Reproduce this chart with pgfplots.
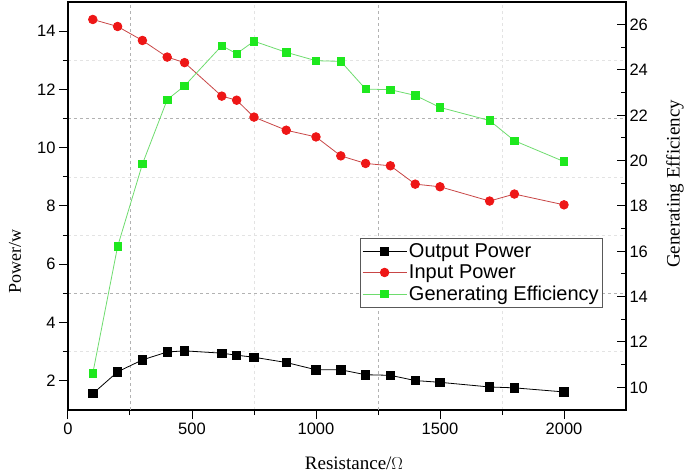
\documentclass[border=0pt]{standalone}
\usepackage{fontspec}
\setmainfont{Liberation Serif}
\newfontfamily\arial{Liberation Sans}
\usepackage{pgfplots}
\pgfplotsset{compat=1.18}
\definecolor{rmark}{RGB}{238,22,22}
\definecolor{rline}{RGB}{200,70,70}
\definecolor{gmark}{RGB}{30,232,30}
\definecolor{gline}{RGB}{110,220,110}
\pgfplotstableread{
x y
100 1.56
200 2.31
300 2.72
400 2.99
470 3.03
620 2.95
680 2.88
750 2.81
880 2.63
1000 2.38
1100 2.38
1200 2.21
1300 2.19
1400 2.01
1500 1.95
1700 1.79
1800 1.76
2000 1.62
}\outputtab
\pgfplotstableread{
x y
100 14.40
200 14.16
300 13.68
400 13.11
470 12.92
620 11.77
680 11.63
750 11.05
880 10.60
1000 10.37
1100 9.72
1200 9.46
1300 9.38
1400 8.75
1500 8.66
1700 8.17
1800 8.41
2000 8.04
}\inputtab
\pgfplotstableread{
x y
100 10.62
200 16.21
300 19.85
400 22.69
470 23.30
620 25.07
680 24.72
750 25.27
880 24.78
1000 24.41
1100 24.38
1200 23.16
1300 23.13
1400 22.88
1500 22.35
1700 21.77
1800 20.88
2000 19.96
}\efftab
\pgfplotsset{
  common/.style={
    scale only axis, width=558pt, height=408pt,
    xmin=0, xmax=2250,
    /pgf/number format/assume math mode=true,
    /pgf/number format/1000 sep={},
    tick label style={font=\arial\fontsize{16.5}{19}\selectfont},
    label style={font=\fontsize{19}{22}\selectfont},
    major tick length=9pt, minor tick length=5pt,
    every tick/.style={black, line width=1pt},
    axis line style={line width=1.2pt},
    clip=false,
  },
  outstyle/.style={black, line width=0.8pt, mark=square*, mark size=4.2pt, mark options={solid, fill=black}},
  instyle/.style={rline, line width=0.8pt, mark=*, mark size=4.3pt, mark options={solid, draw=rmark, fill=rmark}},
  effstyle/.style={gline, line width=0.8pt, mark=square*, mark size=3.7pt, mark options={solid, draw=gmark, fill=gmark}},
}
\begin{document}
\begin{tikzpicture}
\begin{axis}[common,
  name=main,
  ymin=1, ymax=15,
  xtick={0,500,1000,1500,2000}, minor x tick num=1,
  ytick={2,4,...,14}, minor y tick num=1,
  tick align=outside, xtick pos=left, ytick pos=left,
  xminorgrids=true, yminorgrids=true,
  minor grid style={gray!22, dashed, line width=0.6pt},
  extra x ticks={250,1250}, extra x tick labels={},
  extra x tick style={xmajorgrids=true, major grid style={gray!60, dashed, line width=0.6pt}, major tick length=0pt},
  extra y ticks={5,11}, extra y tick labels={},
  extra y tick style={ymajorgrids=true, major grid style={gray!60, dashed, line width=0.6pt}, major tick length=0pt},
  xlabel={Resistance/$\Omega$},
  ylabel={Power/w},
  xlabel style={at={(rel axis cs:0.5125,-0.13)}, anchor=center},
  ylabel style={at={(rel axis cs:-0.095,0.365)}, anchor=center, font=\fontsize{18}{21}\selectfont},
]
\addplot[outstyle] table[x=x,y=y] {\outputtab};
\addplot[instyle] table[x=x,y=y] {\inputtab};
\end{axis}
\begin{axis}[common,
  ymin=9, ymax=27,
  hide x axis,
  ytick pos=right, yticklabel pos=right,
  ytick={10,12,...,26}, minor y tick num=1,
  tick align=inside,
  ylabel={Generating Efficiency},
  ylabel style={at={(rel axis cs:1.0878,0.554)}, anchor=center, rotate=0},
  legend cell align=left,
  legend style={at={(rel axis cs:0.959,0.4216)}, anchor=north east,
    draw=gray!70!black, line width=0.8pt,
    font=\arial\fontsize{20}{25}\selectfont,
    inner xsep=2pt, inner ysep=2pt, row sep=0pt,
    nodes={inner ysep=3pt}},
  legend image code/.code={\draw[mark repeat=2, mark phase=2, #1] plot coordinates {(0pt,0pt) (22pt,0pt) (44pt,0pt)};},
]
\addlegendimage{outstyle}
\addlegendentry{Output Power}
\addlegendimage{instyle}
\addlegendentry{Input Power}
\addplot[effstyle] table[x=x,y=y] {\efftab};
\addlegendentry{Generating Efficiency}
\end{axis}
\pgfresetboundingbox
\path ([shift={(-68pt,-66pt)}]main.south west) rectangle ([shift={(59pt,2pt)}]main.north east);
\end{tikzpicture}
\end{document}
